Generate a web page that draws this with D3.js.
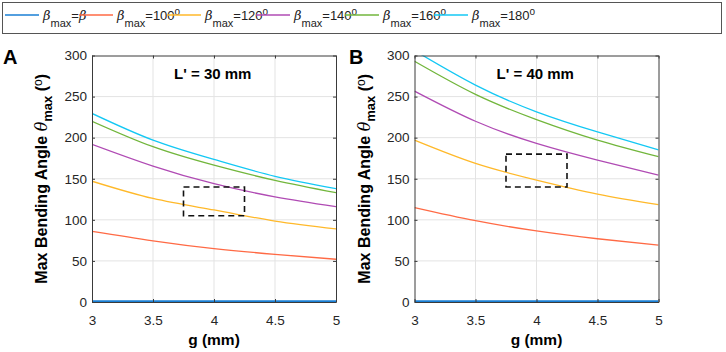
<!DOCTYPE html>
<html>
<head>
  <meta charset="utf-8">
  <title>Max bending angle vs g</title>
  <script src="https://d3js.org/d3.v7.min.js"></script>
  <style>
    body { margin: 0; background: #fff; }
    svg { font-family: "Liberation Sans", Arial, sans-serif; }
    .grid line { stroke: #e3e3e3; stroke-width: 1; }
    .tick text { font-size: 13.5px; fill: #262626; }
  </style>
</head>
<body>
  <svg width="726" height="352"></svg>
  <script>
    const gValues = [3, 3.5, 4, 4.5, 5];
    const xTicks = [3, 3.5, 4, 4.5, 5];
    const yTicks = [0, 50, 100, 150, 200, 250, 300];

    const seriesNames = ["β", "100", "120", "140", "160", "180"];
    const colors = ["#1a7fd4", "#ff6a45", "#ffb92a", "#b04bb4", "#72b63c", "#14c8f4"];

    // L' = 30 mm
    const panelA = [
      [1, 1, 1, 1, 1],
      [86, 74.5, 65, 58, 52],
      [147, 126, 112, 98.5, 89],
      [192, 165.5, 144, 128, 116],
      [220, 189, 166.5, 148, 133],
      [229.5, 197, 173.5, 153, 138]
    ];

    // L' = 40 mm
    const panelB = [
      [1, 1, 1, 1, 1],
      [115, 99, 86.5, 77, 69.3],
      [197, 168.7, 148.4, 131.4, 118.4],
      [256.7, 220, 193, 172.7, 154.5],
      [293, 252.7, 222, 197, 176.8],
      [306, 264, 231.5, 207, 185]
    ];

    const boxA = { x: [3.75, 4.25], y: [105, 140] };
    const boxB = { x: [3.75, 4.25], y: [140, 180] };

    const svg = d3.select("svg");

    function drawPanel(left, data, label, labelX, title, box, id) {
      const x = d3.scaleLinear().domain([3, 5]).range([left, left + 244]);
      const y = d3.scaleLinear().domain([0, 300]).range([302, 55.5]);
      const g = svg.append("g");

      g.append("clipPath").attr("id", id)
        .append("rect")
        .attr("x", x(3)).attr("y", y(300))
        .attr("width", x(5) - x(3)).attr("height", y(0) - y(300));

      // grid
      const grid = g.append("g").attr("class", "grid");
      grid.selectAll(".gx").data(xTicks.slice(1, -1)).join("line")
        .attr("x1", d => x(d)).attr("x2", d => x(d))
        .attr("y1", y(0)).attr("y2", y(300));
      grid.selectAll(".gy").data(yTicks.slice(1, -1)).join("line")
        .attr("x1", x(3)).attr("x2", x(5))
        .attr("y1", d => y(d)).attr("y2", d => y(d));

      // curves
      const line = d3.line()
        .x((d, i) => x(gValues[i]))
        .y(d => y(d))
        .curve(d3.curveNatural);
      g.append("g").attr("clip-path", `url(#${id})`)
        .selectAll("path").data(data).join("path")
        .attr("fill", "none")
        .attr("stroke", (d, i) => colors[i])
        .attr("stroke-width", (d, i) => i === 0 ? 2 : 1.3)
        .attr("d", line);

      // dashed box
      g.append("rect")
        .attr("x", x(box.x[0])).attr("y", y(box.y[1]))
        .attr("width", x(box.x[1]) - x(box.x[0]))
        .attr("height", y(box.y[0]) - y(box.y[1]))
        .attr("fill", "none").attr("stroke", "#111")
        .attr("stroke-width", 1.6).attr("stroke-dasharray", "6,4");

      // axes
      const axB = g.append("g").attr("transform", `translate(0,${y(0)})`)
        .call(d3.axisBottom(x).tickValues(xTicks).tickSizeInner(-3).tickSizeOuter(0)
          .tickFormat(d3.format("")));
      axB.selectAll(".tick text").attr("dy", "1.5em");
      const axT = g.append("g").attr("transform", `translate(0,${y(300)})`)
        .call(d3.axisTop(x).tickValues(xTicks).tickSizeInner(-3).tickSizeOuter(0).tickFormat(""));
      const axL = g.append("g").attr("transform", `translate(${x(3)},0)`)
        .call(d3.axisLeft(y).tickValues(yTicks).tickSizeInner(-3).tickSizeOuter(0));
      axL.selectAll(".tick text").attr("x", -5);
      const axR = g.append("g").attr("transform", `translate(${x(5)},0)`)
        .call(d3.axisRight(y).tickValues(yTicks).tickSizeInner(-3).tickSizeOuter(0).tickFormat(""));
      [axB, axT, axL, axR].forEach(a => {
        a.selectAll("path").attr("stroke", "#3a3a3a");
        a.selectAll("line").attr("stroke", "#3a3a3a");
      });

      // x title
      g.append("text")
        .attr("x", x(4)).attr("y", 345)
        .attr("text-anchor", "middle")
        .attr("font-weight", "bold").attr("font-size", 15.5)
        .text("g (mm)");

      // y title
      const yt = g.append("text")
        .attr("transform", `translate(${left - 45},${(y(0) + y(300)) / 2}) rotate(-90)`)
        .attr("text-anchor", "middle")
        .attr("font-weight", "bold").attr("font-size", 16);
      yt.append("tspan").text("Max Bending Angle ");
      yt.append("tspan").attr("font-style", "italic").attr("font-weight", "normal")
        .attr("font-family", "DejaVu Serif").text("θ");
      yt.append("tspan").attr("dy", 5).attr("font-size", 13).text("max");
      yt.append("tspan").attr("dy", -5).text(" (");
      yt.append("tspan").attr("dy", -5).attr("font-size", 12).attr("font-weight", "normal").text("o");
      yt.append("tspan").attr("dy", 5).text(")");

      // panel title
      g.append("text")
        .attr("x", x(3.99)).attr("y", 79)
        .attr("text-anchor", "middle")
        .attr("font-weight", "bold").attr("font-size", 15)
        .text(title);

      // panel letter
      g.append("text")
        .attr("x", labelX).attr("y", 64)
        .attr("font-weight", "bold").attr("font-size", 20)
        .text(label);
    }

    drawPanel(92, panelA, "A", 3, "L' = 30 mm", boxA, "clipA");
    drawPanel(414.5, panelB, "B", 349, "L' = 40 mm", boxB, "clipB");

    // legend
    const legend = svg.append("g");
    legend.append("rect")
      .attr("x", 2.5).attr("y", 2.5).attr("width", 719).attr("height", 31)
      .attr("fill", "#fff").attr("stroke", "#555").attr("stroke-width", 1);
    const legendX = [5, 79, 167, 256, 345, 434];
    seriesNames.forEach((name, i) => {
      const lg = legend.append("g").attr("transform", `translate(${legendX[i]},15)`);
      lg.append("line").attr("x1", 0).attr("x2", 34).attr("y1", 0).attr("y2", 0)
        .attr("stroke", colors[i]).attr("stroke-width", 1.3);
      const t = lg.append("text").attr("x", 38).attr("y", 5).attr("font-size", 13).attr("fill", "#222");
      t.append("tspan").attr("font-style", "italic").attr("font-family", "DejaVu Serif")
        .attr("font-size", 13).text("β");
      t.append("tspan").attr("dy", 7).attr("font-size", 11).text("max");
      if (i === 0) {
        t.append("tspan").attr("dy", -7).text("=");
        t.append("tspan").attr("font-style", "italic").attr("font-family", "DejaVu Serif").text("β");
      } else {
        t.append("tspan").attr("dy", -7).text("=" + name);
        t.append("tspan").attr("dy", -5).attr("font-size", 10).text("o");
      }
    });
  </script>
</body>
</html>
